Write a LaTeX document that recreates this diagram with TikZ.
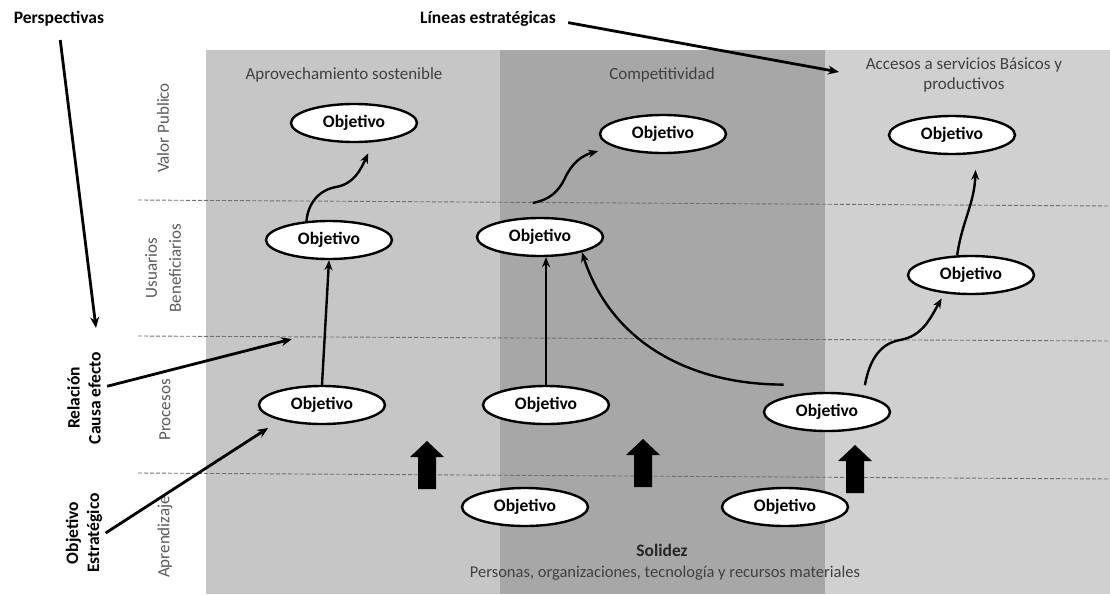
\documentclass[tikz,border=0pt]{standalone}
\usepackage{fontspec}
\setmainfont{Carlito}
\usetikzlibrary{arrows.meta,shapes.geometric}
\definecolor{panelA}{HTML}{C6C6C6}
\definecolor{panelB}{HTML}{A7A7A7}
\definecolor{panelC}{HTML}{D0D0D0}
\definecolor{guide}{HTML}{707070}
\definecolor{headtext}{HTML}{404040}
\definecolor{rowtext}{HTML}{5A5A5A}
\begin{document}
\begin{tikzpicture}[x=1pt,y=-1pt,
  obj/.style={ellipse,draw=black,line width=2.4pt,fill=white,
    minimum width=126pt,minimum height=38pt,inner sep=0pt,
    font=\fontsize{17.5}{20}\selectfont\bfseries},
  head/.style={text=headtext,font=\fontsize{17}{20}\selectfont,align=center},
  rowlabel/.style={text=rowtext,font=\fontsize{17}{24}\selectfont,rotate=90,align=center},
  note/.style={text=black,font=\fontsize{17.5}{21}\selectfont\bfseries,align=center},
  guideline/.style={draw=guide,line width=0.9pt,dash pattern=on 4pt off 2pt},
  link/.style={line width=2.4pt,-{Stealth[length=10pt,width=8pt]}},
  pointer/.style={line width=2.8pt,-{Stealth[length=11pt,width=9pt]}},
  blockup/.pic={\fill[black] (-9,0) -- (-9,-32) -- (-17,-32) -- (0,-48)
    -- (17,-32) -- (9,-32) -- (9,0) -- cycle;}]

\useasboundingbox (0,0) rectangle (1110,594);
\fill[white] (0,0) rectangle (1110,594);

% three strategic-line panels
\fill[panelA] (206,50) rectangle (500,594);
\fill[panelB] (500,50) rectangle (825,594);
\fill[panelC] (825,50) rectangle (1110,594);

% perspective separators
\draw[guideline] (138,200) -- (1110,206);
\draw[guideline] (138,336) -- (1110,341);
\draw[guideline] (138,473) -- (1110,479);

% panel headings
\node[head] (h1) at (344,75) {Aprovechamiento sostenible};
\node[head] (h2) at (662,75) {Competitividad};
\node[head] (h3) at (964,75) {Accesos a servicios Básicos y\\productivos};

% perspective labels
\node[rowlabel] (r1) at (163,128) {Valor Publico};
\node[rowlabel] (r2) at (163,268) {Usuarios\\Beneficiarios};
\node[rowlabel] (r3) at (165,410) {Procesos};
\node[rowlabel] (r4) at (165,537) {Aprendizaje};

% objectives
\node[obj] (A1) at (354,123) {Objetivo};
\node[obj] (A2) at (663,134) {Objetivo};
\node[obj] (A3) at (952,135) {Objetivo};
\node[obj] (B1) at (329,240) {Objetivo};
\node[obj] (B2) at (540,237) {Objetivo};
\node[obj] (B3) at (971,275) {Objetivo};
\node[obj] (C1) at (322,405) {Objetivo};
\node[obj] (C2) at (546,405) {Objetivo};
\node[obj] (C3) at (827,412) {Objetivo};
\node[obj] (D1) at (525,507) {Objetivo};
\node[obj] (D2) at (785,507) {Objetivo};

% foundation
\node[note,text=black!85] (sol) at (662,550) {Solidez};
\node[head,font=\fontsize{16.5}{20}\selectfont] (res) at (665,573)
  {Personas, organizaciones, tecnología y recursos materiales};

% learning pushes upward
\pic at (427,489) {blockup};
\pic at (643,487) {blockup};
\pic at (855,493) {blockup};

% cause-effect links
\draw[link] (C1.north) -- (B1.south);
\draw[link] (C2.north) -- (C2.north |- B2.south);
\draw[link] (B1.140) to[out=85,in=190] (336,187) to[out=10,in=-115]
  ([xshift=-5pt,yshift=-11pt]A1.-45);
\draw[link] ([yshift=14pt]B2.110) to[out=10,in=-115] (565,178)
  to[out=65,in=195] ([xshift=-16pt,yshift=-4pt]A2.195);
\draw[link] ([xshift=-17pt,yshift=9pt]C3.145) to[out=180,in=-72] (B2.-20);
\draw[link] ([xshift=2pt,yshift=10pt]C3.25) to[out=80,in=190] (900,340)
  to[out=10,in=-120] ([xshift=-3pt,yshift=-5pt]B3.215);
\draw[link] (B3.125) to[out=82,in=-92] ([xshift=1pt,yshift=-16pt]A3.-40);

% side annotations
\node[note] (persp) at (59,19) {Perspectivas};
\node[note] (lin) at (488,19) {Líneas estratégicas};
\node[note,rotate=90] (rel) at (84,398) {Relación\\Causa efecto};
\node[note,rotate=90] (oe) at (84,533) {Objetivo\\Estratégico};

\coordinate (pTip) at (96,328);
\coordinate (rTip) at (292,339);
\coordinate (lTip) at (839,72);

\draw[pointer,shorten <=10pt] (persp.south) -- (pTip);
\draw[pointer,shorten <=3pt] ([yshift=11pt]rel.south) -- (rTip);
\draw[pointer,shorten >=14pt] (oe.south) -- (C1.200);
\draw[pointer,shorten <=9pt] ([yshift=-2pt]lin.east) -- (lTip);
\end{tikzpicture}
\end{document}
